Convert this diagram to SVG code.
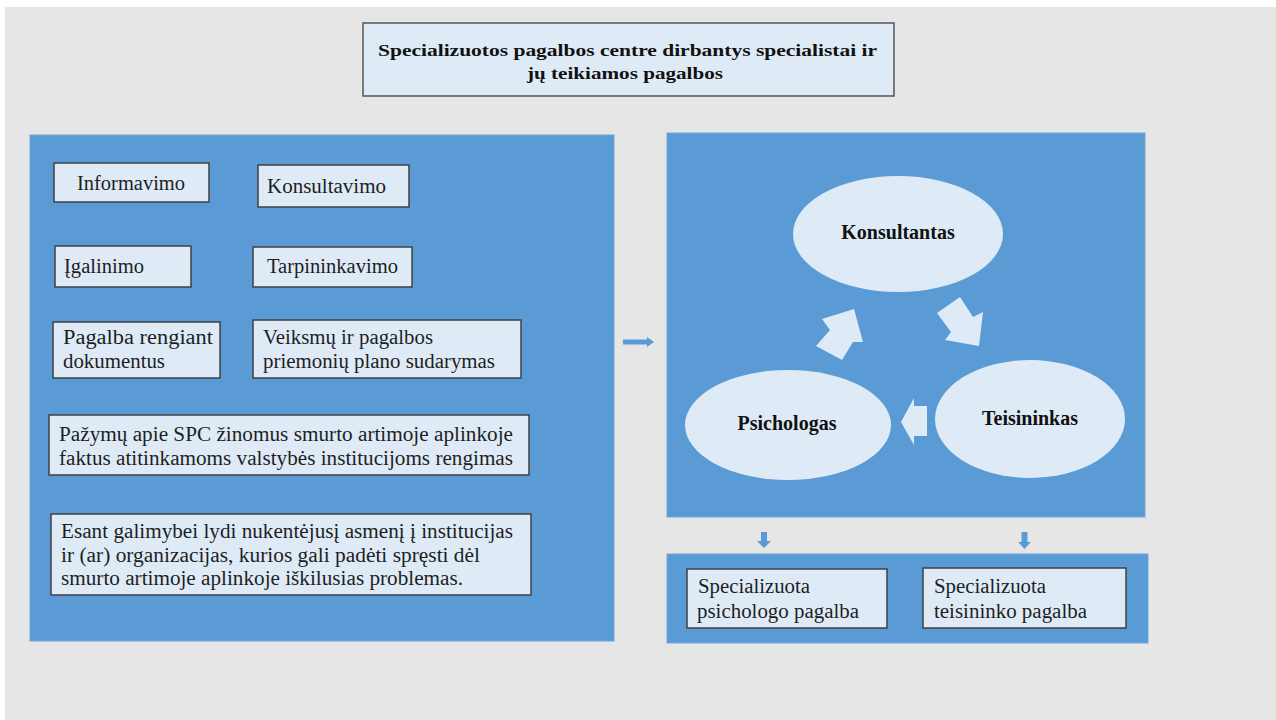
<svg xmlns="http://www.w3.org/2000/svg" width="1276" height="720" viewBox="0 0 1276 720">
<defs>
<style>
.bg{fill:#e7e6e6}
.panel{fill:#5b9bd5;stroke:#6ea7db;stroke-width:1}
.box{fill:#deebf7;stroke:#404040;stroke-width:1.5}
.ell{fill:#deebf7}
.blk{fill:#deebf7}
.conn{fill:#5b9bd5}
.t{font-family:'Liberation Serif';font-size:20px;font-weight:normal;font-style:normal;fill:#1e1e1e}
.tb{font-family:'Liberation Serif';font-size:20px;font-weight:bold;fill:#111}
.title{font-family:'Liberation Serif';font-size:17px;font-weight:bold;fill:#111}
</style>
</defs>
<rect x="0" y="0" width="1276" height="720" fill="#ffffff"/>
<rect class="bg" x="5" y="7" width="1271" height="713"/>

<g id="title">
<rect class="box" x="363" y="23" width="531" height="73" style="stroke:#555"/>
<text class="title" x="378" y="56" textLength="499" lengthAdjust="spacingAndGlyphs">Specializuotos pagalbos centre dirbantys specialistai ir</text>
<text class="title" x="527" y="79" textLength="196" lengthAdjust="spacingAndGlyphs">jų teikiamos pagalbos</text>
</g>

<g id="panel-left">
<rect class="panel" x="30" y="135" width="584" height="506"/>
</g>
<g id="panel-right">
<rect class="panel" x="667" y="133" width="478" height="384"/>
</g>
<g id="panel-bottom">
<rect class="panel" x="667" y="554" width="481" height="89"/>
</g>

<g id="informavimo">
<rect class="box" x="54" y="163" width="155" height="39"/>
<text class="t" x="77" y="190" textLength="108" lengthAdjust="spacingAndGlyphs">Informavimo</text>
</g>
<g id="konsultavimo">
<rect class="box" x="258" y="165" width="151" height="42"/>
<text class="t" x="267" y="193" textLength="119" lengthAdjust="spacingAndGlyphs">Konsultavimo</text>
</g>
<g id="igalinimo">
<rect class="box" x="55" y="246" width="136" height="41"/>
<text class="t" x="64" y="273" textLength="80" lengthAdjust="spacingAndGlyphs">Įgalinimo</text>
</g>
<g id="tarpininkavimo">
<rect class="box" x="253" y="247" width="159" height="40"/>
<text class="t" x="267" y="273" textLength="131" lengthAdjust="spacingAndGlyphs">Tarpininkavimo</text>
</g>
<g id="pagalba-rengiant">
<rect class="box" x="53" y="322" width="167" height="56"/>
<text class="t" x="63" y="344" textLength="150" lengthAdjust="spacingAndGlyphs">Pagalba rengiant</text>
<text class="t" x="63" y="368" textLength="102" lengthAdjust="spacingAndGlyphs">dokumentus</text>
</g>
<g id="veiksmu-planas">
<rect class="box" x="253" y="320" width="268" height="58"/>
<text class="t" x="263" y="344" textLength="170" lengthAdjust="spacingAndGlyphs">Veiksmų ir pagalbos</text>
<text class="t" x="263" y="368" textLength="232" lengthAdjust="spacingAndGlyphs">priemonių plano sudarymas</text>
</g>
<g id="pazymu-rengimas">
<rect class="box" x="49" y="415" width="480" height="60"/>
<text class="t" x="59" y="441" textLength="454" lengthAdjust="spacingAndGlyphs">Pažymų apie SPC žinomus smurto artimoje aplinkoje</text>
<text class="t" x="59" y="465" textLength="454" lengthAdjust="spacingAndGlyphs">faktus atitinkamoms valstybės institucijoms rengimas</text>
</g>
<g id="lydejimas">
<rect class="box" x="51" y="514" width="480" height="81"/>
<text class="t" x="61" y="538" textLength="452" lengthAdjust="spacingAndGlyphs">Esant galimybei lydi nukentėjusį asmenį į institucijas</text>
<text class="t" x="61" y="562" textLength="419" lengthAdjust="spacingAndGlyphs">ir (ar) organizacijas, kurios gali padėti spręsti dėl</text>
<text class="t" x="61" y="585" textLength="402" lengthAdjust="spacingAndGlyphs">smurto artimoje aplinkoje iškilusias problemas.</text>
</g>

<g id="konsultantas">
<ellipse class="ell" cx="898" cy="234" rx="105" ry="58"/>
<text class="tb" x="898" y="239" text-anchor="middle">Konsultantas</text>
</g>
<g id="psichologas">
<ellipse class="ell" cx="788" cy="425" rx="103" ry="55"/>
<text class="tb" x="787" y="430" text-anchor="middle">Psichologas</text>
</g>
<g id="teisininkas">
<ellipse class="ell" cx="1030" cy="419" rx="95" ry="59"/>
<text class="tb" x="1030" y="425" text-anchor="middle">Teisininkas</text>
</g>

<g id="psichologo-pagalba">
<rect class="box" x="687" y="569" width="200" height="59"/>
<text class="t" x="698" y="593" textLength="112" lengthAdjust="spacingAndGlyphs">Specializuota</text>
<text class="t" x="697" y="618" textLength="162" lengthAdjust="spacingAndGlyphs">psichologo pagalba</text>
</g>
<g id="teisininko-pagalba">
<rect class="box" x="923" y="568" width="203" height="60"/>
<text class="t" x="934" y="593" textLength="112" lengthAdjust="spacingAndGlyphs">Specializuota</text>
<text class="t" x="934" y="618" textLength="153" lengthAdjust="spacingAndGlyphs">teisininko pagalba</text>
</g>

<g id="connectors">
<polygon class="blk" points="816,346 842,360 853,342 863,342 854,309 822,319 830,330"/>
<polygon class="blk" points="937,313 960,297 973,317 983,312 979,346 945,340 951,332"/>
<polygon class="blk" points="927,406 914,406 914,398 901,422 914,445 914,436 927,436"/>
<polygon class="conn" points="623,339.5 647,339.5 647,337 654,342 647,347 647,344.5 623,344.5"/>
<polygon class="conn" points="761,532 767,532 767,541 771,541 764,548 757,541 761,541"/>
<polygon class="conn" points="1021.5,532 1027.5,532 1027.5,542 1031,542 1024.5,549 1018,542 1021.5,542"/>
</g>
</svg>
